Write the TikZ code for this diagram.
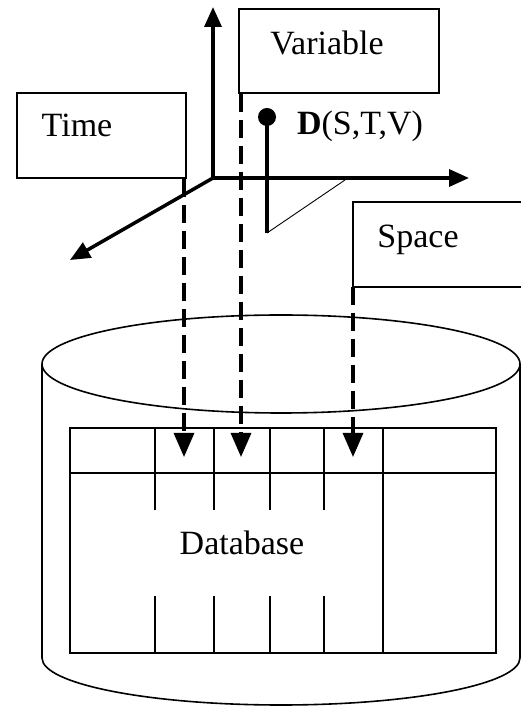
\documentclass[tikz,border=0pt]{standalone}
\usepackage{fontspec}
\setmainfont{Liberation Serif}
\usetikzlibrary{arrows.meta}
\begin{document}
\begin{tikzpicture}[x=1pt,y=1pt,
  axis/.style={line width=3.5pt,-{Triangle[length=20pt,width=17pt]}},
  link/.style={line width=3.2pt,dash pattern=on 18pt off 8pt,-{Triangle[length=24pt,width=20pt]}},
  box/.style={draw,line width=1.6pt,rectangle,inner sep=0pt},
  boxline/.style={line width=1.6pt},
  lbl/.style={font=\fontsize{34}{40}\selectfont,inner sep=0pt,anchor=base},
  gridline/.style={line width=2pt},
  cyl/.style={line width=1.6pt}]
\useasboundingbox (0,0) rectangle (521,707);
% cylinder
\draw[cyl] (281,343) ellipse [x radius=239, y radius=49];
\draw[cyl] (42,343) -- (42,49) arc[start angle=180,end angle=360,x radius=239,y radius=47] -- (520,343);
% table
\node[box,line width=2pt,minimum width=426pt,minimum height=225pt] (table) at (283,166.5) {};
\draw[gridline] (70,234) -- (496,234);
\foreach \x in {155,214,270,324}{
  \draw[gridline] (\x,279) -- (\x,197);
  \draw[gridline] (\x,111) -- (\x,54);
}
\draw[gridline] (383,279) -- (383,54);
\node[lbl] (dbtext) at (242,152) {Database};
% axes
\coordinate (O) at (213,529);
\coordinate (up) at (213,700);
\coordinate (right) at (469,529);
\coordinate (front) at (70,447);
\draw[axis] (O) -- (up);
\draw[axis] (O) -- (right);
\draw[axis] (O) -- (front);
% boxes
\node[box,minimum width=169pt,minimum height=85pt] (timebox) at (101.5,571.5) {};
\node[lbl] (timetext) at (77,570) {Time};
\node[box,minimum width=200pt,minimum height=84pt] (varbox) at (339,656) {};
\node[lbl] (vartext) at (327,652) {Variable};
\coordinate (spbl) at (353,420);
\draw[boxline] (522,505) -| (spbl) -- (522,420);
\node[lbl] (sptext) at (418,459) {Space};
% point D
\node[circle,fill,minimum size=18pt,inner sep=0pt] (dot) at (267,590) {};
\coordinate (stemend) at (267,474);
\coordinate (proj) at (345,527);
\draw[line width=3.2pt] (dot.center) -- (stemend);
\draw[line width=0.9pt] (stemend) -- (proj);
\node[lbl] (dtext) at (360,572) {\textbf{D}(S,T,V)};
% dashed links
\coordinate (tT) at (184,250);
\coordinate (tV) at (241,250);
\coordinate (tS) at (353,250);
\draw[link] (timebox.south east -| tT) -- (tT);
\draw[link] (varbox.south west -| tV) -- (tV);
\draw[link] (spbl) -- (tS);
\end{tikzpicture}
\end{document}
